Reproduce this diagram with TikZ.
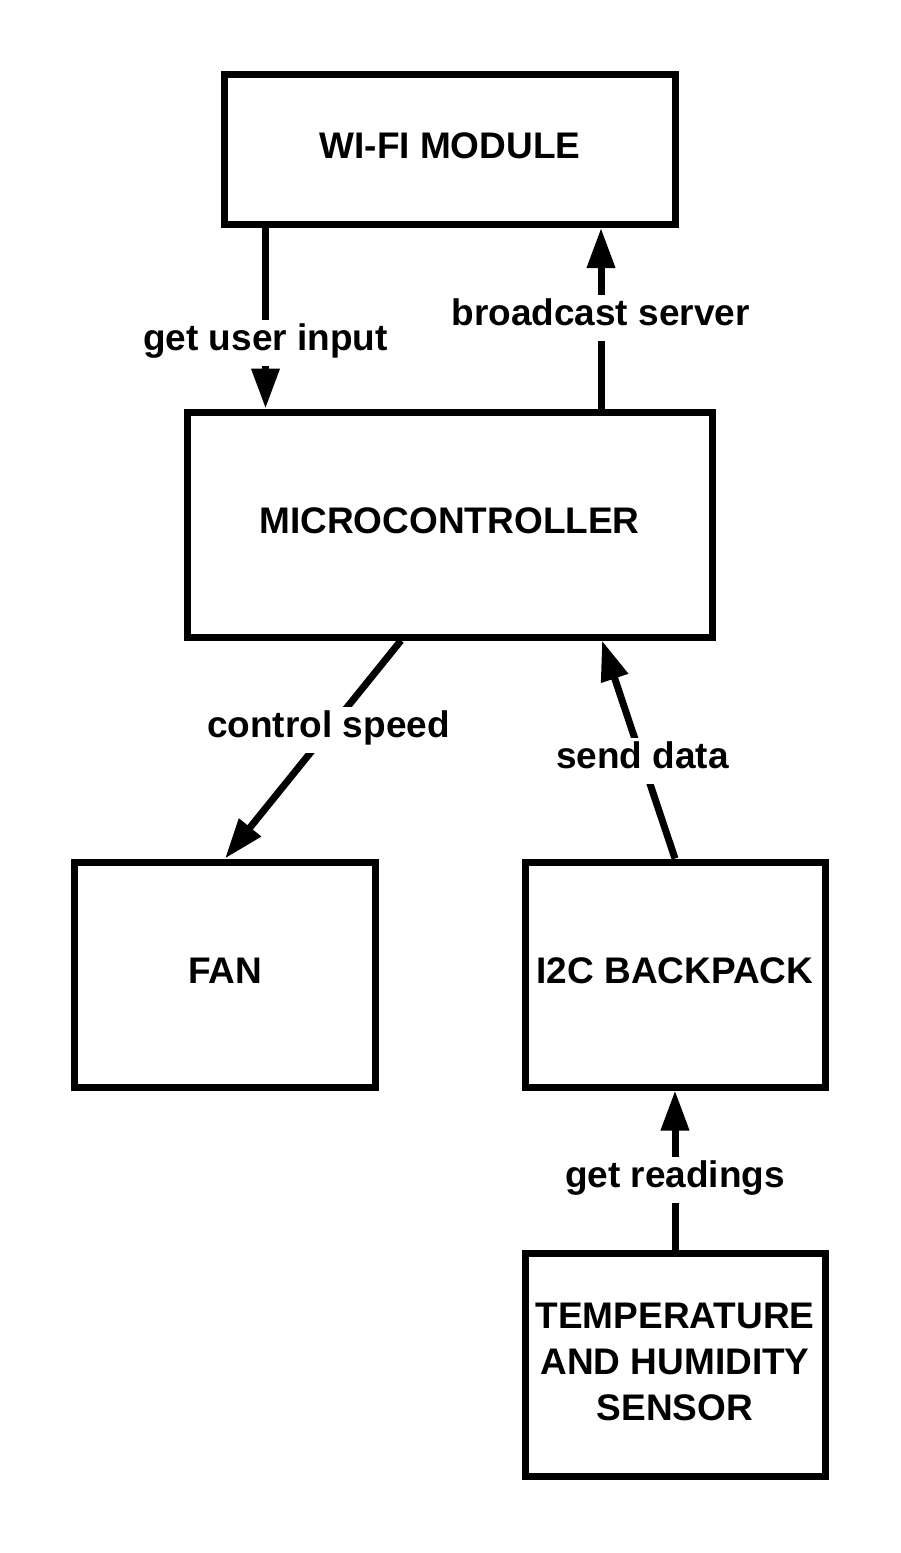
\documentclass[tikz,border=0pt]{standalone}
\usepackage{fontspec}
\setmainfont{Liberation Sans}
\usetikzlibrary{arrows.meta}
\newcommand{\boxtxt}[1]{\begin{tabular}{@{}c@{}}#1\end{tabular}}
\begin{document}
\begin{tikzpicture}[x=1pt,y=-1pt,
  blk/.style={draw=black, line width=7pt, rectangle, inner sep=0pt, font=\fontsize{37}{46}\selectfont\bfseries},
  lbl/.style={fill=white, inner sep=0pt, text height=30pt, text depth=16pt, font=\fontsize{37}{46}\selectfont\bfseries},
  arr/.style={line width=7pt, -{Triangle[length=40pt,width=27pt]}}]
\useasboundingbox[fill=white] (0,0) rectangle (900,1553);

\node[blk, minimum width=451pt, minimum height=150pt] (wifi) at (450,149.5) {\boxtxt{WI-FI MODULE}};
\node[blk, minimum width=525pt, minimum height=225pt] (mcu) at (449.5,524.5) {\boxtxt{MICROCONTROLLER}};
\node[blk, minimum width=301pt, minimum height=225pt] (fan) at (225,974.5) {\boxtxt{FAN}};
\node[blk, minimum width=300pt, minimum height=225pt] (i2c) at (675,974.5) {\boxtxt{I2C BACKPACK}};
\node[blk, minimum width=300pt, minimum height=223pt] (sensor) at (675,1365) {\boxtxt{TEMPERATURE\\AND HUMIDITY\\SENSOR}};

\coordinate (xa) at (265.5,0);
\coordinate (xb) at (601,0);
\coordinate (xc) at (401,0);
\coordinate (xd) at (602,0);

\draw[arr] (wifi.south -| xa) -- (mcu.north -| xa);
\draw[arr] (mcu.north -| xb) -- (wifi.south -| xb);
\draw[arr] (mcu.south -| xc) -- (fan.north);
\draw[arr] (i2c.north) -- (mcu.south -| xd);
\draw[arr] (sensor.north) -- (i2c.south);

\node[lbl] (l1) at (265.5,343) {get user input};
\node[lbl] (l2) at (600.5,318) {broadcast server};
\node[lbl] (l3) at (328.5,730) {control speed};
\node[lbl] (l4) at (642.5,761) {send data};
\node[lbl] (l5) at (675,1180) {get readings};
\end{tikzpicture}
\end{document}
